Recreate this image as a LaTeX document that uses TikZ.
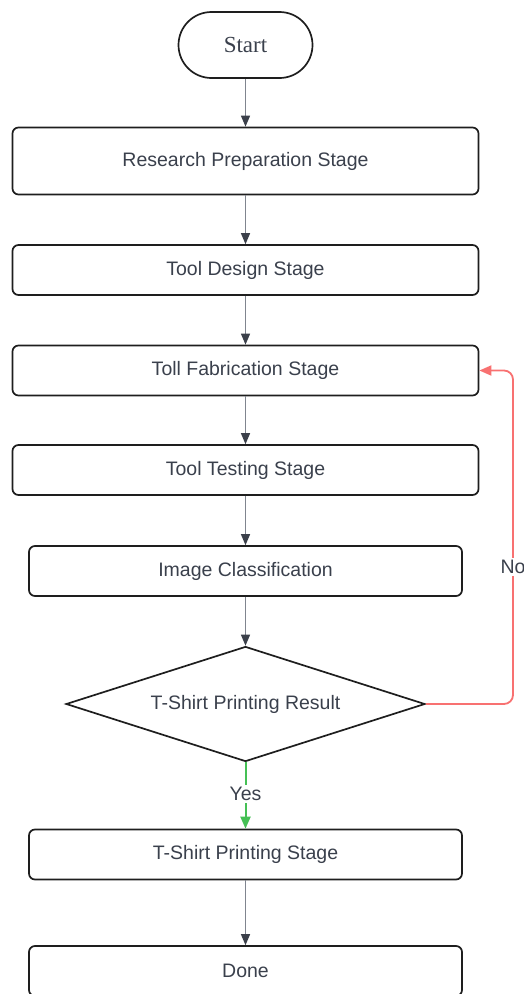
\documentclass[tikz,border=0pt]{standalone}
\usepackage{fontspec}
\setmainfont{Liberation Sans}
\newfontfamily\startfont{Liberation Serif}
\usetikzlibrary{arrows.meta,shapes.geometric,calc}
\definecolor{txt}{HTML}{3A404C}
\definecolor{edge}{HTML}{80858F}
\definecolor{headc}{HTML}{3B404A}
\definecolor{boxline}{HTML}{1E1E1E}
\definecolor{nored}{HTML}{F87171}
\definecolor{yesgreen}{HTML}{45C055}
\begin{document}
\begin{tikzpicture}[x=1pt,y=-1pt,
  every node/.style={text=txt,font=\fontsize{19.5}{23}\selectfont},
  stepbox/.style={draw=boxline,line width=1.7pt,rounded corners=6pt,fill=white,minimum width=466pt,minimum height=50pt,inner sep=0pt},
  narrowbox/.style={stepbox,minimum width=433pt},
  flow/.style={draw=edge,line width=1.3pt,-{Triangle[length=11pt,width=9pt,color=headc]}},
  lbl/.style={fill=white,inner sep=2pt}
]
\useasboundingbox (0,0) rectangle (523,994);
\node[draw=boxline,line width=1.7pt,rounded corners=33pt,minimum width=134pt,minimum height=66pt,inner sep=0pt,font=\startfont\fontsize{23}{26}\selectfont] (start) at (245.5,45) {Start};
\node[stepbox,minimum height=67pt] (research) at (245.5,161) {\raisebox{-2pt}{Research Preparation Stage}};
\node[stepbox] (design) at (245.5,270) {\raisebox{-2pt}{Tool Design Stage}};
\node[stepbox] (fab) at (245.5,370.5) {\raisebox{-2pt}{Toll Fabrication Stage}};
\node[stepbox] (testing) at (245.5,470) {\raisebox{-2pt}{Tool Testing Stage}};
\node[narrowbox] (classif) at (245.5,571) {\raisebox{-2pt}{Image Classification}};
\node[diamond,draw=boxline,line width=1.7pt,aspect=3.1,minimum width=359pt,minimum height=115pt,inner sep=0pt] (result) at (245.5,704) {\raisebox{-2pt}{T-Shirt Printing Result}};
\node[narrowbox] (print) at (245.5,854.5) {\raisebox{-2pt}{T-Shirt Printing Stage}};
\node[narrowbox] (done) at (245.5,971) {\raisebox{-2pt}{Done}};

\draw[flow] (start) -- (research);
\draw[flow] (research) -- (design);
\draw[flow] (design) -- (fab);
\draw[flow] (fab) -- (testing);
\draw[flow] (testing) -- (classif);
\draw[flow] (classif) -- (result);
\draw[flow] (print) -- (done);

\draw[draw=yesgreen,line width=2pt,-{Triangle[length=12pt,width=10pt,color=yesgreen]}] (result.south) -- node[lbl,pos=0.48] {Yes} (print.north);

\coordinate (turn) at (513,704);
\draw[draw=nored,line width=1.8pt,rounded corners=9pt,-{Triangle[length=12pt,width=10pt,color=nored]}] (result.east) -- (turn) |- (fab.east);
\node[lbl] (nolbl) at (513,567) {No};
\end{tikzpicture}
\end{document}
